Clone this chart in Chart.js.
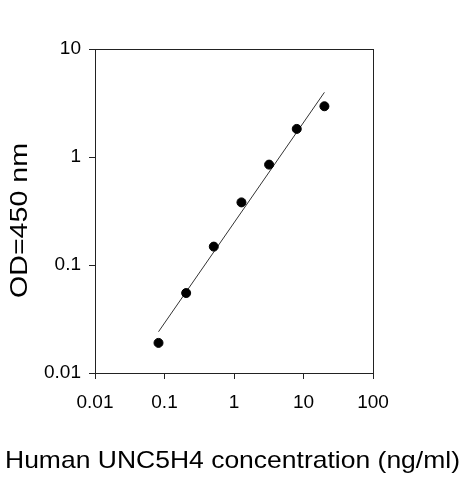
<!DOCTYPE html>
<html>
<head>
<meta charset="utf-8">
<script src="https://cdn.jsdelivr.net/npm/chart.js@4"></script>
<style>
  html, body { margin: 0; padding: 0; background: #fff; }
  #wrap { width: 463px; height: 480px; }
</style>
</head>
<body>
<div id="wrap"><canvas id="stdCurve" width="463" height="480"></canvas></div>
<script>
// standard curve values
const concentrations = [0.082, 0.205, 0.512, 1.28, 3.2, 8, 20];
const odValues = [0.019, 0.055, 0.148, 0.38, 0.85, 1.82, 2.95];
const fitX = [0.082, 20];
const fitY = [0.0241, 3.97];
const xTicks = [0.01, 0.1, 1, 10, 100];
const yTicks = [0.01, 0.1, 1, 10];
const xTitle = 'Human UNC5H4 concentration (ng/ml)';
const yTitle = 'OD=450 nm';

const fontFamily = "'Liberation Sans', Arial, sans-serif";
Chart.defaults.font.family = fontFamily;
Chart.defaults.color = '#000';

// draws text stretched along its own direction so it fills `length` px
function stretchedText(ctx, text, cx, baseY, length) {
    const w = ctx.measureText(text).width;
    ctx.save();
    ctx.translate(cx, baseY);
    ctx.scale(length / w, 1);
    ctx.fillText(text, 0, 0);
    ctx.restore();
}

// frame round the plot area, plus the two axis titles
// (the x title is wider than the plot, so the scale title would squeeze it)
const framePlugin = {
    id: 'frame',
    afterDatasetsDraw(chart) {
        const { ctx, chartArea } = chart;
        ctx.save();
        ctx.strokeStyle = '#222';
        ctx.lineWidth = 1;
        ctx.strokeRect(chartArea.left + 0.5, chartArea.top + 0.5,
            chartArea.right - chartArea.left, chartArea.bottom - chartArea.top);

        ctx.fillStyle = '#000';
        ctx.textAlign = 'center';
        ctx.textBaseline = 'alphabetic';
        ctx.font = '24px ' + fontFamily;
        stretchedText(ctx, xTitle, 232.5, 468, 455);

        ctx.translate(27, 220.5);
        ctx.rotate(-Math.PI / 2);
        stretchedText(ctx, yTitle, 0, 0, 155);
        ctx.restore();
    }
};

const axisStyle = {
    grid: { display: true, drawOnChartArea: false, drawTicks: true, tickLength: 6, color: '#222' },
    border: { display: true, color: '#222', width: 1 }
};

new Chart(document.getElementById('stdCurve'), {
    type: 'scatter',
    data: {
        datasets: [{
            label: 'Standard',
            data: concentrations.map((c, i) => ({ x: c, y: odValues[i] })),
            backgroundColor: '#000',
            borderColor: '#000',
            pointRadius: 4.5,
            pointHoverRadius: 4.5
        }, {
            label: 'Fit',
            data: fitX.map((c, i) => ({ x: c, y: fitY[i] })),
            showLine: true,
            borderColor: '#333',
            borderWidth: 1,
            pointRadius: 0
        }]
    },
    plugins: [framePlugin],
    options: {
        responsive: false,
        animation: false,
        devicePixelRatio: 1,
        layout: { padding: { left: 0, right: 90, top: 49, bottom: 0 } },
        plugins: {
            legend: { display: false },
            tooltip: { enabled: false }
        },
        scales: {
            x: {
                type: 'logarithmic',
                min: 0.01,
                max: 100,
                ...axisStyle,
                afterBuildTicks: scale => { scale.ticks = xTicks.map(v => ({ value: v })); },
                afterFit: scale => { scale.height = 107; },
                ticks: {
                    font: { size: 19 },
                    padding: 12,
                    maxRotation: 0,
                    callback: value => String(value)
                }
            },
            y: {
                type: 'logarithmic',
                min: 0.01,
                max: 10,
                ...axisStyle,
                afterBuildTicks: scale => { scale.ticks = yTicks.map(v => ({ value: v })); },
                afterFit: scale => { scale.width = 95; },
                ticks: {
                    font: { size: 19 },
                    padding: 8,
                    callback: value => String(value)
                }
            }
        }
    }
});
</script>
</body>
</html>
